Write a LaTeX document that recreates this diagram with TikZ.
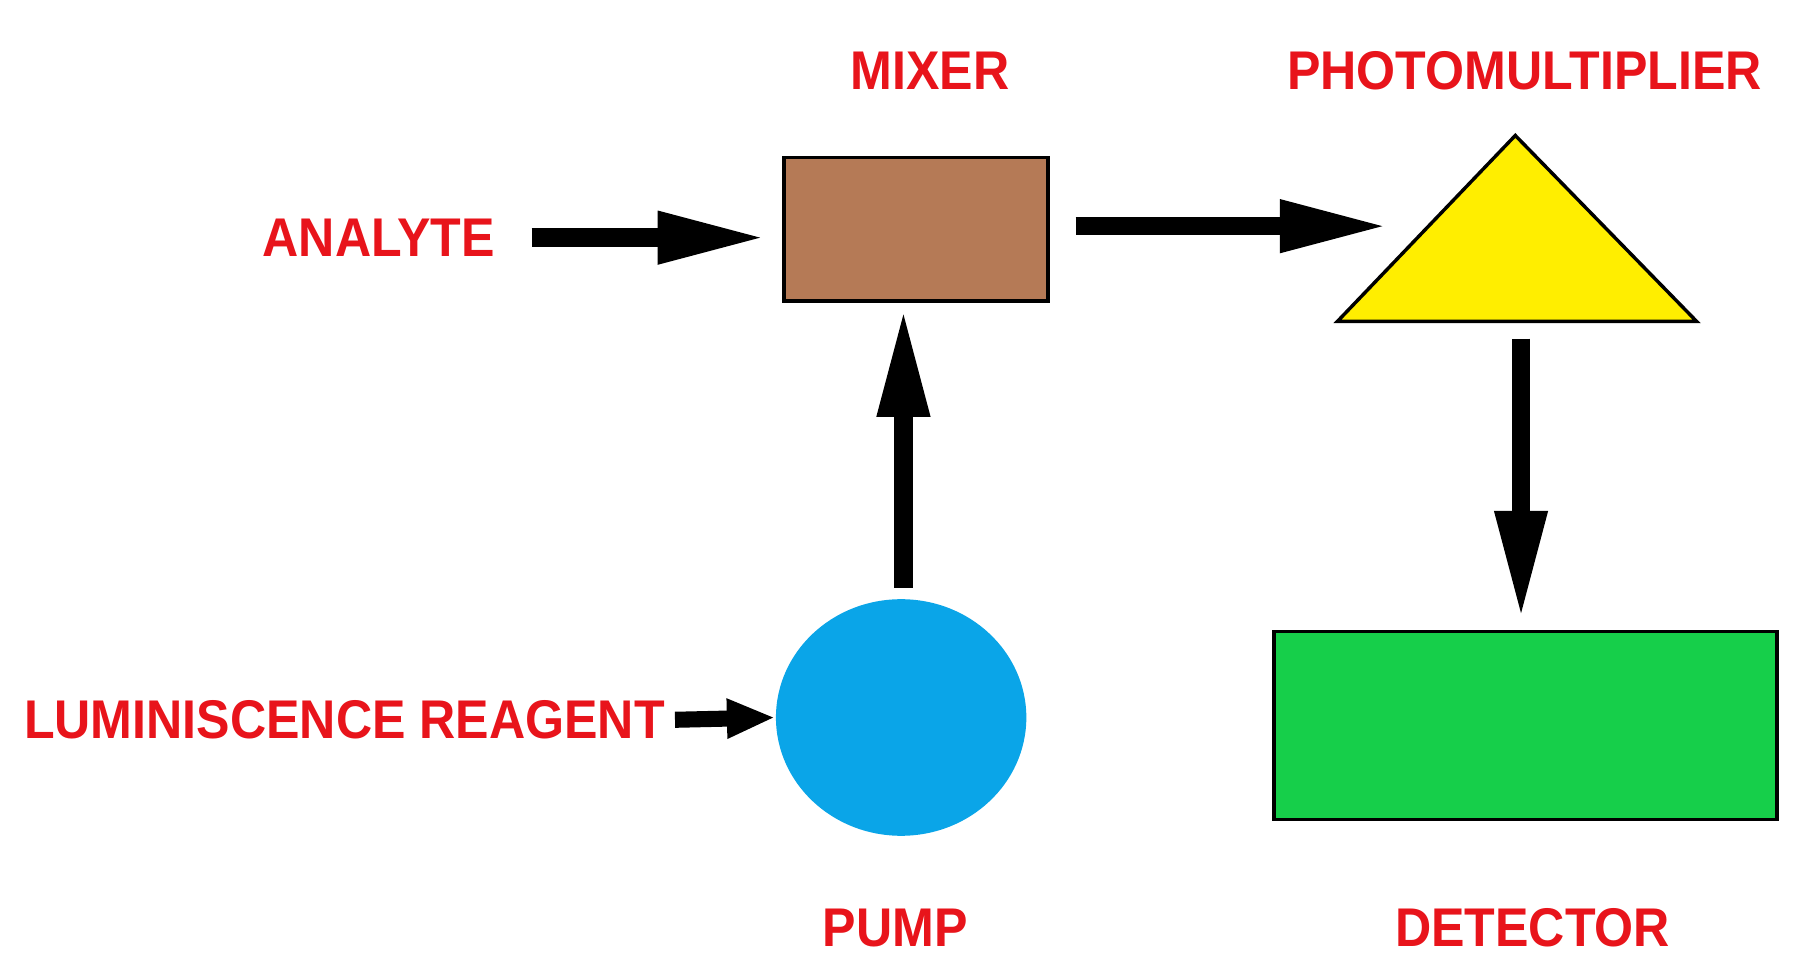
\documentclass[tikz,border=0pt]{standalone}
\usepackage{fontspec}
\setmainfont{Liberation Sans}
\usetikzlibrary{arrows.meta,shapes.geometric}
\definecolor{lbl}{HTML}{E8141B}
\definecolor{brownbox}{HTML}{B57A56}
\definecolor{yel}{HTML}{FFEE00}
\definecolor{blu}{HTML}{0AA5E8}
\definecolor{grn}{HTML}{16CF4A}
\begin{document}
\begin{tikzpicture}[x=0.01cm,y=-0.01cm,
  lab/.style={text=lbl,font=\bfseries\fontsize{13.5}{14}\selectfont,inner sep=0pt,xscale=0.92},
  big/.style={line width=0.16cm,-{Triangle[length=0.95cm,width=0.42cm]}},
  small/.style={line width=0.14cm,-{Triangle[length=0.42cm,width=0.32cm]}}]
\useasboundingbox (0,0) rectangle (1568,853);
\fill[white] (0,0) rectangle (1568,853);
\draw[line width=0.03cm,fill=brownbox] (683,137) rectangle (913,262);
\coordinate (mixW) at (668,207);
\coordinate (mixE) at (937,197);
\coordinate (mixS) at (787,268);
\draw[line width=0.03cm,fill=yel] (1320,118) -- (1478,280) -- (1165,280) -- cycle;
\coordinate (pmW) at (1210,197);
\coordinate (pmS) at (1325,295);
\node[ellipse,fill=blu,minimum width=2.18cm,minimum height=2.06cm,inner sep=0pt] (pump) at (785,625) {};
\node[draw,line width=0.03cm,fill=grn,minimum width=4.38cm,minimum height=1.64cm,inner sep=0pt] (det) at (1329,632) {};
\node[lab] (mixer) at (810,62) {MIXER};
\node[lab] (pm) at (1328,62) {PHOTOMULTIPLIER};
\node[lab] (an) at (330,207) {ANALYTE};
\node[lab] (lr) at (300,627) {LUMINISCENCE REAGENT};
\node[lab] (pl) at (780,808) {PUMP};
\node[lab] (dl) at (1335,808) {DETECTOR};
\coordinate (anE) at (463,207);
\coordinate (lrE) at (588,627);
\coordinate (pumpN) at (787,512);
\coordinate (detN) at (1325,540);
\draw[big] (anE) -- (mixW);
\draw[big] (mixE) -- (pmW);
\draw[big] (pumpN) -- (mixS);
\draw[big] (pmS) -- (detN);
\draw[small] (lrE) -- (pump.west);
\end{tikzpicture}
\end{document}
